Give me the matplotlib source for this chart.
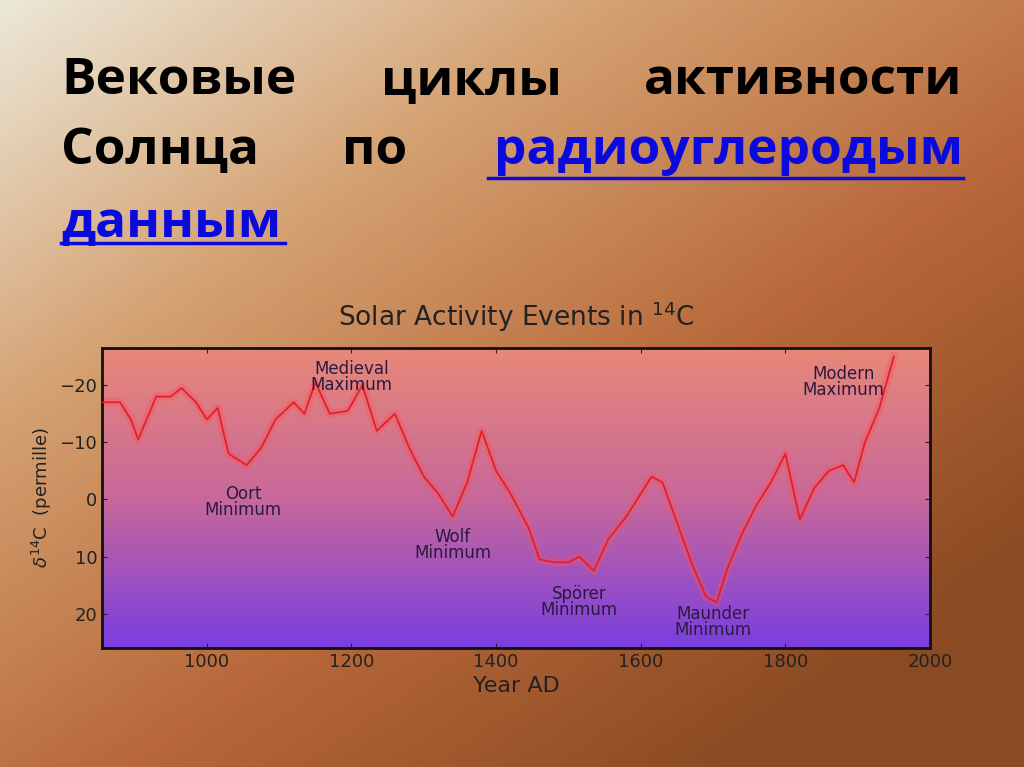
import numpy as np
import matplotlib.pyplot as plt
from matplotlib.colors import LinearSegmentedColormap

# данные: год и delta 14C (промилле)
years = [855, 880, 895, 905, 920, 930, 950, 965, 985, 1000, 1015, 1030, 1055, 1075,
         1095, 1120, 1135, 1150, 1170, 1195, 1215, 1235, 1260, 1280, 1300, 1320,
         1340, 1360, 1380, 1400, 1420, 1445, 1460, 1480, 1500, 1515, 1535, 1555,
         1580, 1600, 1615, 1630, 1650, 1670, 1690, 1705, 1720, 1740, 1760, 1780,
         1800, 1820, 1840, 1860, 1880, 1895, 1910, 1930, 1950]
d14c = [-17, -17, -14, -10.5, -15, -18, -18, -19.5, -17, -14, -16, -8, -6, -9,
        -14, -17, -15, -20.5, -15, -15.5, -20, -12, -15, -9, -4, -1,
        3, -3, -12, -5, -1, 5, 10.5, 11, 11, 10, 12.5, 7,
        3, -1, -4, -3, 4, 11, 17, 18, 12, 6, 1, -3,
        -8, 3.5, -2, -5, -6, -3, -10, -16, -25]

events = ["Medieval\nMaximum", "Oort\nMinimum", "Wolf\nMinimum", "Spörer\nMinimum",
          "Maunder\nMinimum", "Modern\nMaximum"]
event_x = [1200, 1050, 1340, 1515, 1700, 1880]
event_y = [-21.5, 0.5, 8, 18, 21.5, -20.5]

fig = plt.figure(figsize=(10.24, 7.67), dpi=100)

# фон слайда
bg = fig.add_axes([0, 0, 1, 1])
yy, xx = np.mgrid[0:1:200j, 0:1:200j]
t = np.clip(0.55 * xx + 0.6 * yy, 0, 1)
bg_cmap = LinearSegmentedColormap.from_list('bg', ['#ece8d8', '#d4a070', '#b8683a', '#8a4a22'])
bg.imshow(t, cmap=bg_cmap, aspect='auto', extent=[0, 1, 0, 1], origin='upper')
bg.axis('off')

# заголовок, выровненный по ширине
fs = 37
lines = [(["Вековые", "циклы", "активности"], [0.06, 0.46, 0.94], 0.895),
         (["Солнца", "по", "радиоуглеродым"], [0.06, 0.366, 0.94], 0.803)]
for words, xs, yline in lines:
    for w, x, ha in zip(words, xs, ['left', 'center', 'right']):
        col = '#0a0adf' if w == "радиоуглеродым" else 'black'
        bg.text(x, yline, w, fontsize=fs, fontweight='bold', ha=ha, va='center',
                color=col, family='Open Sans', transform=bg.transAxes)
bg.text(0.06, 0.708, "данным", fontsize=fs, fontweight='bold', ha='left', va='center',
        color='#0a0adf', family='Open Sans', transform=bg.transAxes)
bg.plot([0.477, 0.94], [0.768, 0.768], color='#0a0adf', lw=2.5, transform=bg.transAxes)
bg.plot([0.06, 0.278], [0.683, 0.683], color='#0a0adf', lw=2.5, transform=bg.transAxes)
bg.set_xlim(0, 1)
bg.set_ylim(0, 1)

ax = fig.add_axes([102 / 1024, 1 - 648 / 767, 828 / 1024, 300 / 767])
grad = np.linspace(0, 1, 256).reshape(-1, 1)
pa_cmap = LinearSegmentedColormap.from_list('pa', ['#e88878', '#c8689a', '#7a3ee0'])
ax.imshow(grad, cmap=pa_cmap, aspect='auto', extent=[855, 2000, 26, -26.5], zorder=0)

ax.plot(years, d14c, color='#ff5050', lw=6, alpha=0.35, zorder=2)
ax.plot(years, d14c, color='#e02030', lw=1.3, zorder=3)
for lab, x, y in zip(events, event_x, event_y):
    ax.text(x, y, lab, ha='center', va='center', fontsize=12, color='#2a1a40',
            linespacing=0.85, zorder=4)

ax.set_xlim(855, 2000)
ax.set_ylim(26, -26.5)
ax.set_xticks([1000, 1200, 1400, 1600, 1800, 2000])
ax.set_yticks([-20, -10, 0, 10, 20])
ax.tick_params(direction='in', labelsize=13, colors='#222222', top=True, right=True)
for s in ax.spines.values():
    s.set_linewidth(2)
    s.set_color('#111111')
ax.set_xlabel("Year AD", fontsize=16, color='#222222')
ax.set_ylabel(r"$\delta^{14}$C  (permille)", fontsize=13, color='#222222')
ax.set_title(r"Solar Activity Events in $^{14}$C", fontsize=19, color='#222222', pad=16)

fig.savefig('out.png', dpi=100)
